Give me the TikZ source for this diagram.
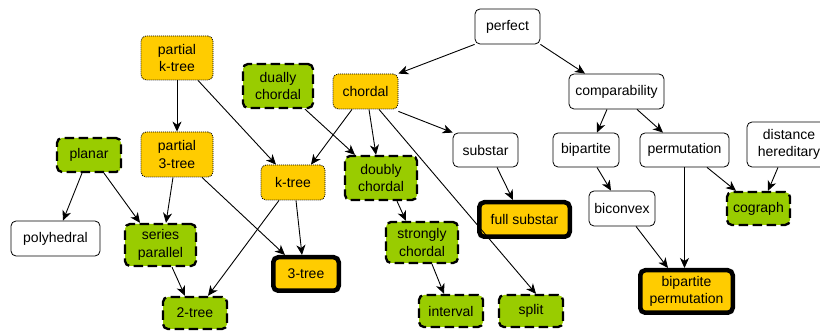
\documentclass[tikz,border=0pt]{standalone}
\usepackage{fontspec}
\setmainfont{Liberation Sans}
\usetikzlibrary{arrows.meta}
\definecolor{ygold}{HTML}{FFCC00}
\definecolor{ggreen}{HTML}{99CC00}
\tikzset{
  box/.style={rectangle, rounded corners=5pt, inner sep=0pt, align=center,
    font=\fontsize{14}{17.5}\selectfont, text=black},
  wnode/.style={box, draw=black, line width=0.8pt, fill=white},
  ynode/.style={box, draw=black, line width=0.8pt, fill=ygold, dash pattern=on 1pt off 1pt},
  gnode/.style={box, draw=black, line width=2.3pt, fill=ggreen, dash pattern=on 9.5pt off 4.5pt},
  bnode/.style={box, draw=black, line width=4.5pt, fill=ygold},
  conn/.style={draw=black, line width=0.9pt, -{Stealth[length=10pt,width=9pt,inset=3pt]}},
}
\begin{document}
\begin{tikzpicture}[x=1pt,y=-1pt]
\useasboundingbox (0,0) rectangle (820,331);
% nodes
\node[ynode, minimum width=72pt, minimum height=44pt] (pkt) at (177,58) {partial\\k-tree};
\node[ynode, minimum width=72pt, minimum height=45pt] (p3t) at (177,154.5) {partial\\3-tree};
\node[gnode, minimum width=64pt, minimum height=34pt] (planar) at (89,155) {planar};
\node[gnode, minimum width=70pt, minimum height=44pt] (dually) at (278,86) {dually\\chordal};
\node[ynode, minimum width=65pt, minimum height=35pt] (chordal) at (365.5,91.5) {chordal};
\node[wnode, minimum width=65pt, minimum height=35pt] (perfect) at (507.5,26.5) {perfect};
\node[wnode, minimum width=95pt, minimum height=35pt] (comp) at (616.5,91.5) {comparability};
\node[wnode, minimum width=65pt, minimum height=34pt] (substar) at (485.5,150) {substar};
\node[wnode, minimum width=66pt, minimum height=34pt] (bip) at (586,150) {bipartite};
\node[wnode, minimum width=89pt, minimum height=34pt] (perm) at (684.5,150) {permutation};
\node[wnode, minimum width=84pt, minimum height=45pt] (dh) at (789,144.5) {distance\\hereditary};
\node[ynode, minimum width=64pt, minimum height=35pt] (ktree) at (293,182.5) {k-tree};
\node[gnode, minimum width=72pt, minimum height=44pt] (doubly) at (381,178) {doubly\\chordal};
\node[wnode, minimum width=89pt, minimum height=35pt] (poly) at (55.5,238.5) {polyhedral};
\node[gnode, minimum width=71pt, minimum height=42pt] (series) at (160.5,245) {series\\parallel};
\node[gnode, minimum width=72pt, minimum height=41pt] (strongly) at (422,242.5) {strongly\\chordal};
\node[wnode, minimum width=66pt, minimum height=35pt] (biconvex) at (622,208.5) {biconvex};
\node[gnode, minimum width=63pt, minimum height=33pt] (cograph) at (758.5,208.5) {cograph};
\node[bnode, minimum width=90.5pt, minimum height=34.5pt] (fullsub) at (524.5,219.5) {full substar};
\node[bnode, minimum width=65.5pt, minimum height=33.5pt] (three) at (306,274) {3-tree};
\node[bnode, minimum width=92.5pt, minimum height=42.5pt] (bperm) at (686.5,291.5) {bipartite\\permutation};
\node[gnode, minimum width=64pt, minimum height=32pt] (two) at (195,313) {2-tree};
\node[gnode, minimum width=64pt, minimum height=32pt] (interval) at (451,311) {interval};
\node[gnode, minimum width=64pt, minimum height=32pt] (split) at (531,311) {split};
% connectors
\draw[conn] (perfect.south west) -- (chordal.north east);
\draw[conn] (perfect.south east) -- ([xshift=-31.5pt]comp.north);
\draw[conn] ([xshift=-9.5pt]comp.south) -- ([xshift=11pt]bip.north);
\draw[conn] ([xshift=20.5pt]comp.south) -- ([xshift=-21.5pt]perm.north);
\draw[conn] ([xshift=11pt]bip.south) -- ([xshift=-11pt]biconvex.north);
\draw[conn] ([xshift=14pt]biconvex.south) -- ([xshift=-18.5pt]bperm.north);
\draw[conn] (perm.south) -- (perm.south |- bperm.north);
\draw[conn] ([xshift=22.5pt]perm.south) -- ([xshift=-22.5pt]cograph.north);
\draw[conn] ([xshift=-11pt]dh.south) -- ([xshift=9.5pt]cograph.north);
\draw[conn] ([xshift=11.5pt]substar.south) -- ([xshift=-11.5pt]fullsub.north);
\draw[conn] ([yshift=-2pt]chordal.south east) -- (substar.north west);
\draw[conn] ([xshift=3.5pt]chordal.south) -- ([xshift=-5pt]doubly.north);
\draw[conn] ([xshift=-13.5pt]chordal.south) -- ([xshift=18pt]ktree.north);
\draw[conn] ([xshift=13.5pt]chordal.south) -- ([xshift=5pt]split.north);
\draw[conn] ([xshift=27pt]dually.south) -- ([xshift=-26pt]doubly.north);
\draw[conn] (pkt.south) -- (p3t.north);
\draw[conn] ([xshift=21pt]pkt.south) -- ([xshift=-17pt]ktree.north);
\draw[conn] ([xshift=-7pt]planar.south) -- ([xshift=7.5pt]poly.north);
\draw[conn] ([xshift=15pt]planar.south) -- ([xshift=-20.5pt]series.north);
\draw[conn] ([xshift=-4pt]p3t.south) -- ([xshift=5.5pt]series.north);
\draw[conn] ([xshift=25pt]p3t.south) -- ([xshift=-21pt]three.north);
\draw[conn] ([xshift=-14pt]ktree.south) -- ([xshift=13pt]two.north);
\draw[conn] ([xshift=3pt]ktree.south) -- ([xshift=-4pt]three.north);
\draw[conn] ([xshift=11.5pt]series.south) -- ([xshift=-10pt]two.north);
\draw[conn] ([xshift=16pt]doubly.south) -- ([xshift=-16pt]strongly.north);
\draw[conn] ([xshift=10pt]strongly.south) -- ([xshift=-7pt]interval.north);
\end{tikzpicture}
\end{document}
